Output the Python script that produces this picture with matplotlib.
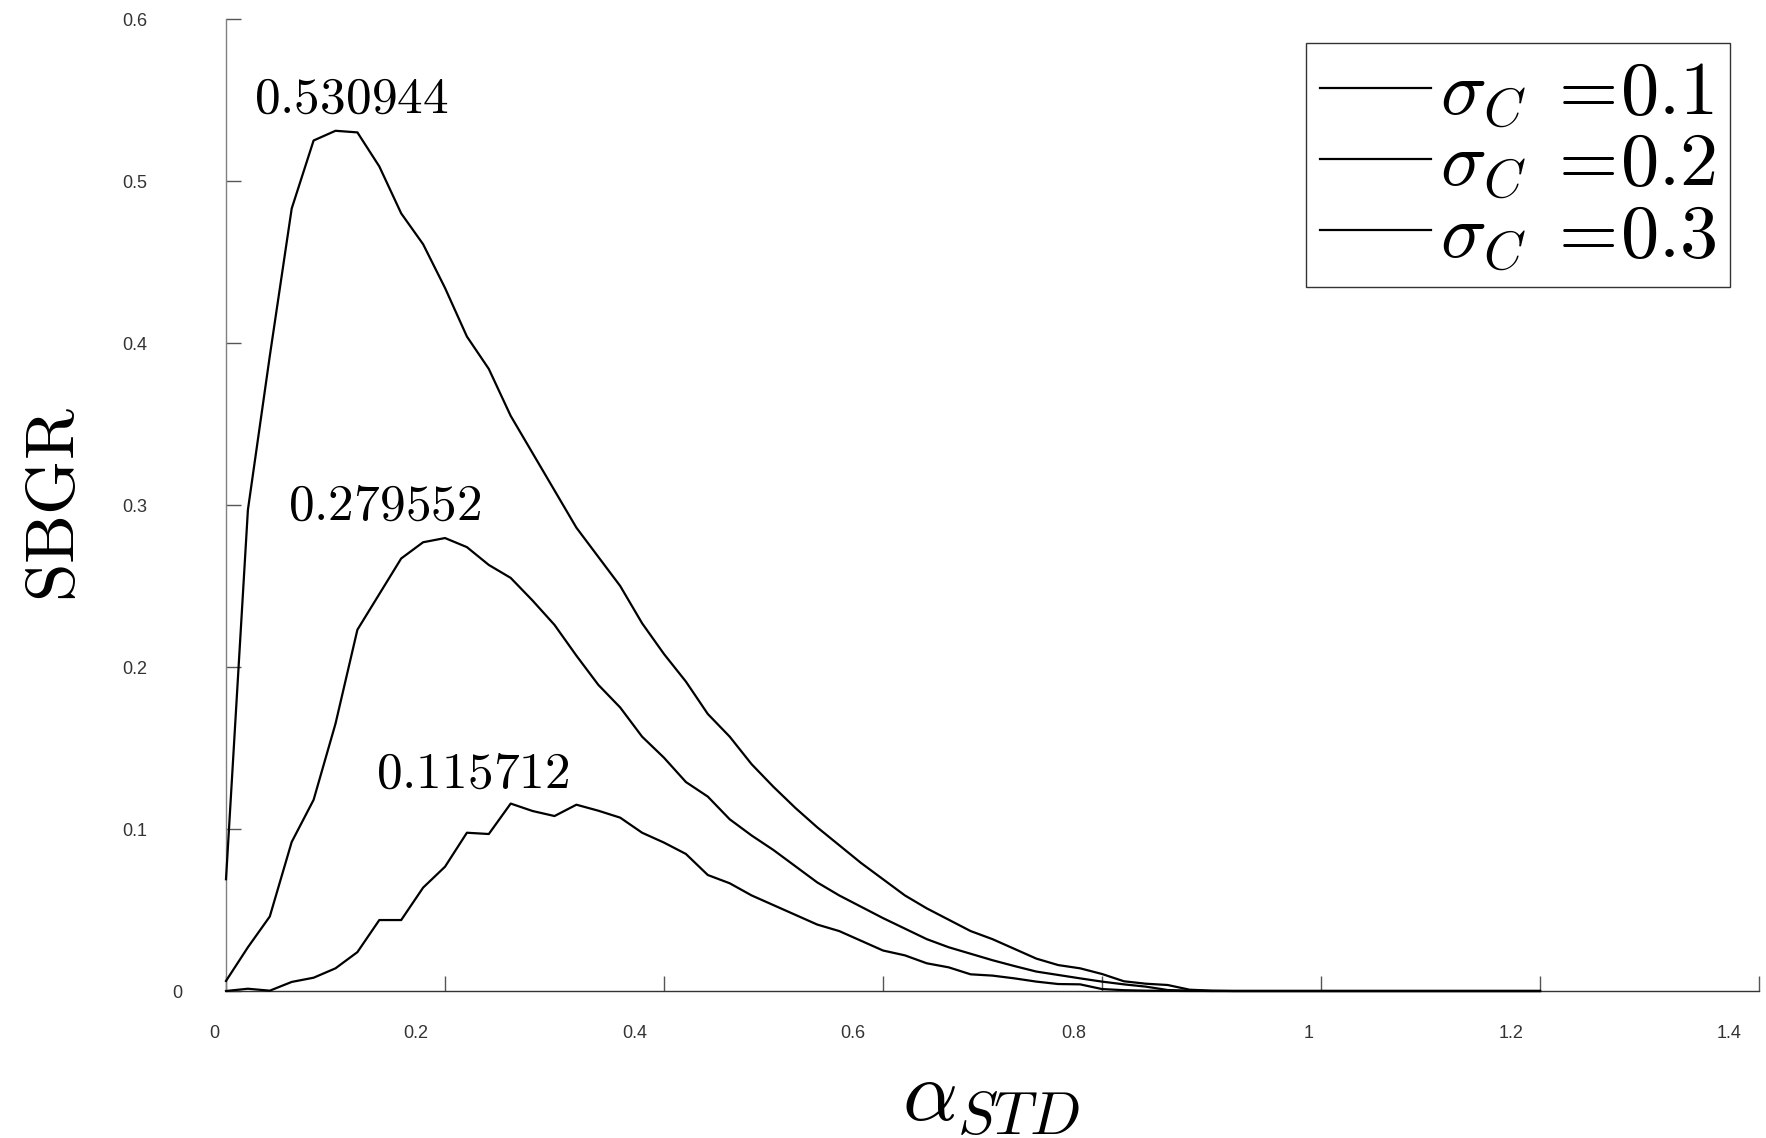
"""SBGR vs alpha_STD for three sigma_C values."""
import matplotlib

matplotlib.use("Agg")
import matplotlib.pyplot as plt
import matplotlib.transforms as mtransforms
import numpy as np

plt.rcParams["mathtext.fontset"] = "cm"

# sampling grid of alpha_STD (0 .. 1.2, step 0.02)
alpha_std = np.round(np.arange(0, 1.2001, 0.02), 2)

sbgr_01 = [0.069, 0.297, 0.392, 0.483, 0.525, 0.531, 0.530, 0.509, 0.480, 0.461,
           0.434, 0.404, 0.384, 0.355, 0.332, 0.309, 0.286, 0.268, 0.250, 0.227,
           0.208, 0.191, 0.171, 0.157, 0.140, 0.126, 0.113, 0.101, 0.090, 0.079,
           0.069, 0.059, 0.051, 0.044, 0.037, 0.032, 0.026, 0.020, 0.016, 0.014,
           0.0105, 0.006, 0.0045, 0.0037, 0.0008, 0.0002,
           0, 0, 0, 0, 0, 0, 0, 0, 0, 0, 0, 0, 0, 0, 0]
sbgr_02 = [0.0062, 0.027, 0.046, 0.092, 0.118, 0.165, 0.223, 0.245, 0.267, 0.277,
           0.2796, 0.274, 0.263, 0.255, 0.241, 0.226, 0.207, 0.189, 0.175, 0.157,
           0.144, 0.129, 0.120, 0.106, 0.096, 0.087, 0.077, 0.067, 0.059, 0.052,
           0.045, 0.0385, 0.032, 0.027, 0.023, 0.019, 0.0154, 0.012, 0.0099, 0.0078,
           0.0058, 0.0041, 0.0027, 0.0006, 0.0002, 0,
           0, 0, 0, 0, 0, 0, 0, 0, 0, 0, 0, 0, 0, 0, 0]
sbgr_03 = [0.0, 0.0014, 0.0002, 0.0056, 0.0082, 0.014, 0.024, 0.0438, 0.0438, 0.0638,
           0.0767, 0.0977, 0.0969, 0.1157, 0.1111, 0.108, 0.1150, 0.1113, 0.107, 0.0977,
           0.0916, 0.0846, 0.0716, 0.0665, 0.059, 0.053, 0.047, 0.041, 0.037, 0.031,
           0.025, 0.022, 0.0171, 0.0146, 0.0103, 0.0095, 0.0078, 0.0058, 0.0043, 0.0041,
           0.0012, 0.0005, 0.0002, 0.0001, 0, 0,
           0, 0, 0, 0, 0, 0, 0, 0, 0, 0, 0, 0, 0, 0, 0]

series = [sbgr_01, sbgr_02, sbgr_03]
series_labels = [r"$\sigma_C\;=\!0.1$", r"$\sigma_C\;=\!0.2$", r"$\sigma_C\;=\!0.3$"]

peak_texts = ["0.530944", "0.279552", "0.115712"]
peak_pos = [(0.114, 0.5506), (0.145, 0.2994), (0.2254, 0.134)]

xticks = [0, 0.2, 0.4, 0.6, 0.8, 1.0, 1.2, 1.4]
xtick_labels = ["0", "0.2", "0.4", "0.6", "0.8", "1", "1.2", "1.4"]
yticks = [0, 0.1, 0.2, 0.3, 0.4, 0.5, 0.6]
ytick_labels = ["0", "0.1", "0.2", "0.3", "0.4", "0.5", "0.6"]

W, H = 1766, 1138
fig = plt.figure(figsize=(W / 100, H / 100), dpi=100)
ax = fig.add_axes([226 / W, 1 - 991 / H, (1759 - 226) / W, (991 - 19) / H])

for y, lab in zip(series, series_labels):
    ax.plot(alpha_std, y, color="black", lw=1.6, label=lab, clip_on=False, zorder=3)

ax.set_xlim(0, 1.4)
ax.set_ylim(0, 0.6)
for s in ("top", "right"):
    ax.spines[s].set_visible(False)
ax.spines["left"].set_color("#808080")
ax.spines["bottom"].set_color("#333333")
ax.spines["left"].set_linewidth(1.0)
ax.spines["bottom"].set_linewidth(1.0)

ax.tick_params(axis="both", direction="in", length=11, width=1.0, colors="#555555",
               labelcolor="#333333", labelsize=13, pad=0)
ax.set_xticks(xticks, xtick_labels, fontfamily="Liberation Sans")
ax.set_yticks(yticks, ytick_labels, fontfamily="Liberation Sans")

# odd label placement of the original export
x_dx = [-12, -29, -29, -30, -28, -12, -29, -30]
for lab, dx in zip(ax.get_xticklabels(), x_dx):
    lab.set_transform(lab.get_transform()
                      + mtransforms.ScaledTranslation(dx / 100, -34 / 100, fig.dpi_scale_trans))
y_dx = [-44, -79, -79, -79, -79, -79, -79]
for lab, dx in zip(ax.get_yticklabels(), y_dx):
    lab.set_transform(lab.get_transform()
                      + mtransforms.ScaledTranslation(dx / 100, 0, fig.dpi_scale_trans))

for txt, (px, py) in zip(peak_texts, peak_pos):
    ax.text(px, py, "$" + txt + "$", ha="center", va="center", fontsize=37)

fig.text(54 / W, 1 - 505 / H, r"$\mathrm{SBGR}$", rotation=90, ha="center", va="center",
         fontsize=50)
fig.text(991 / W, 1 - 1120 / H, r"$\alpha_{STD}$", ha="center", va="baseline", fontsize=62)

leg = ax.legend(loc="upper right", bbox_to_anchor=(1730 / W, 1 - 43 / H),
                bbox_transform=fig.transFigure, borderaxespad=0, fontsize=55,
                fancybox=False, framealpha=1, edgecolor="#333333", handlelength=1.45,
                handletextpad=0.12, labelspacing=-0.04, borderpad=0.18)
leg.get_frame().set_linewidth(1.0)

fig.savefig("out.png", dpi=100, facecolor="white")
